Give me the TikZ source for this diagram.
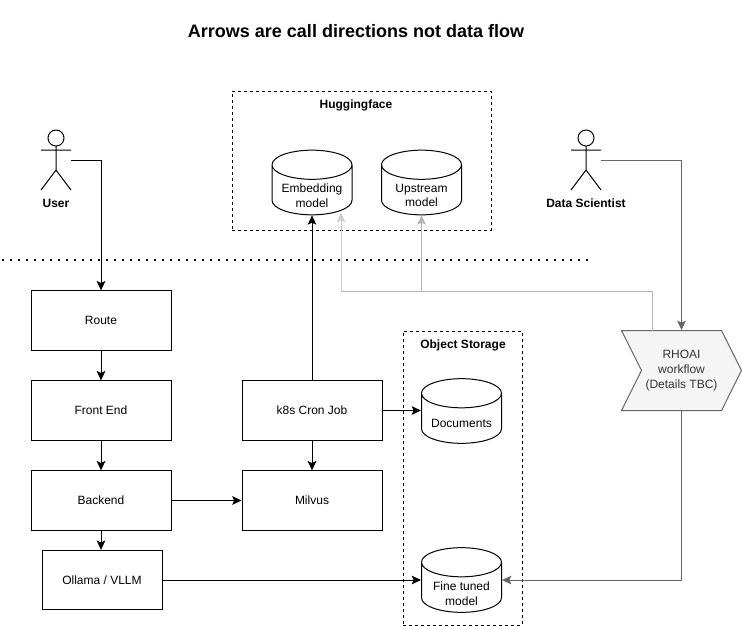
\documentclass[tikz,border=0pt]{standalone}
\usepackage{fontspec}
\setmainfont{Liberation Sans}
\usetikzlibrary{arrows.meta,shapes.geometric,shapes.symbols}
\definecolor{darkline}{HTML}{666666}
\definecolor{lightline}{HTML}{B3B3B3}
\definecolor{paleline}{HTML}{CCCCCC}
\newcommand{\storebody}{\phantom{Embedding}}
\tikzset{
	box/.style={draw,minimum width=105pt,minimum height=44.5pt,font=\fontsize{9}{11}\selectfont},
	store/.style={draw,cylinder,shape border rotate=90,aspect=0.48,minimum width=60pt,minimum height=48.5pt,inner sep=0pt,anchor=shape center,font=\fontsize{9}{11}\selectfont},
	storetext/.style={align=center,inner sep=0pt,font=\fontsize{9}{11}\selectfont},
	group/.style={draw,dashed,dash pattern=on 2.25pt off 2.25pt,line width=.75pt},
	heading/.style={font=\fontsize{9}{11}\selectfont\bfseries,align=center},
	flow/.style={-{Stealth[length=7pt,width=6.5pt,inset=1.5pt]},line width=.75pt},
	pics/actor/.style={code={
		\draw[line width=.75pt] (0,-2) circle[radius=6pt];
		\draw[line width=.75pt] (0,6) -- (0,30) (-15,10) -- (15,10) (-15,50) -- (0,30) -- (15,50);
		\coordinate (-hand) at (15,20);
	}},
}
\begin{document}
\begin{tikzpicture}[x=.75pt,y=-.75pt,line width=.75pt]
	\useasboundingbox (0,0) rectangle (742,626);
	\node[font=\fontsize{13.5}{16}\selectfont\bfseries] (title) at (356,31) {Arrows are call directions not data flow};

	% actors
	\pic (user) at (56,140) {actor};
	\node[heading] (userlabel) at (56,203) {User};
	\pic (scientist) at (586,140) {actor};
	\node[heading] (scientistlabel) at (586,203) {Data Scientist};

	% groups
	\node[group,minimum width=194.25pt,minimum height=104.25pt] (huggingface) at (361.5,160.5) {};
	\node[heading] (huggingfacelabel) at (356,105) {Huggingface};
	\node[group,minimum width=89.25pt,minimum height=220.5pt] (objectstorage) at (462.5,478) {};
	\node[heading] (objectstoragelabel) at (463,345) {Object Storage};

	% boundary
	\draw[line width=1.5pt,dash pattern=on 1.5pt off 4.5pt] (2,260) -- (590,260);

	% boxes
	\node[box] (route) at (101,320.5) {Route};
	\node[box] (frontend) at (101,410.5) {Front End};
	\node[box] (backend) at (101,500.5) {Backend};
	\node[box,minimum width=90pt] (ollama) at (102,580) {Ollama / VLLM};
	\node[box] (cronjob) at (312,410.5) {k8s Cron Job};
	\node[box] (milvus) at (312,500.5) {Milvus};

	% stores
	\node[store] (embedding) at (312,182.5) {\storebody};
	\node[storetext] (embeddinglabel) at (312,195.5) {Embedding\\model};
	\node[store] (upstream) at (421.5,182.5) {\storebody};
	\node[storetext] (upstreamlabel) at (421.5,195.5) {Upstream\\model};
	\node[store] (documents) at (461.5,411) {\storebody};
	\node[storetext] (documentslabel) at (461.5,423) {Documents};
	\node[store] (finetuned) at (461.5,580) {\storebody};
	\node[storetext] (finetunedlabel) at (461.5,593.5) {Fine tuned\\model};

	\node[draw=darkline,fill=black!4,text=black!80,signal,signal to=east,signal from=west,signal pointer angle=127,minimum width=90pt,minimum height=60pt,inner sep=0pt,align=center,font=\fontsize{9}{11}\selectfont] (rhoai) at (681.5,370.5) {RHOAI\\workflow\\(Details TBC)};

	% helper points
	\coordinate (rhoaiout) at (652,331);
	\coordinate (bus) at (341,291);
	\coordinate (embeddingin) at (341,213);

	% calls
	\draw[flow] (user-hand) -| (route.north);
	\draw[flow] (route) -- (frontend);
	\draw[flow] (frontend) -- (backend);
	\draw[flow] (backend) -- (backend|-ollama.north);
	\draw[flow] (backend) -- (milvus);
	\draw[flow] (ollama.east) -- (finetuned.west|-ollama.east);
	\draw[flow] (cronjob) -- (milvus);
	\draw[flow] (cronjob.east) -- (documents.west|-cronjob.east);
	\draw[flow] (cronjob) -- (embedding.south);
	\draw[flow,darkline] (scientist-hand) -| (rhoai.north);
	\draw[flow,darkline] (rhoai.south) |- (finetuned.east|-ollama.east);
	\draw[lightline] (rhoaiout) |- (bus);
	\draw[flow,paleline] (bus) -- (embeddingin);
	\draw[flow,lightline] (bus-|upstream.south) -- (upstream.south);
\end{tikzpicture}
\end{document}
